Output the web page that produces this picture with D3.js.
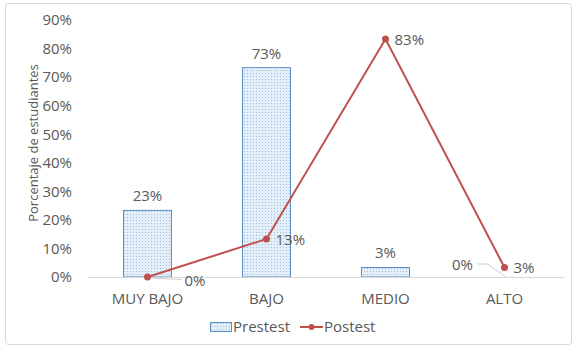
<!DOCTYPE html>
<html>
<head>
<meta charset="utf-8">
<script src="https://cdn.jsdelivr.net/npm/d3@7"></script>
<style>
body { margin: 0; background: #fff; }
text { font-family: "Open Sans", sans-serif; fill: #595959; }
</style>
</head>
<body>
<div id="chart"></div>
<script>
// data (n = 30 estudiantes)
var categories = ["MUY BAJO", "BAJO", "MEDIO", "ALTO"];
var prestest = [23.33, 73.33, 3.33, 0];
var postest = [0, 13.33, 83.33, 3.33];
var yTicks = [0, 10, 20, 30, 40, 50, 60, 70, 80, 90];

var w = 582;
var h = 350;
var plotLeft = 88, plotRight = 564, plotTop = 20, plotBottom = 277;
var fs = "15px";

var svg = d3.select("#chart")
    .append("svg")
    .attr("width", w)
    .attr("height", h);

// dotted fill for the bars
var defs = svg.append("defs");
var pat = defs.append("pattern")
    .attr("id", "dots")
    .attr("width", 3)
    .attr("height", 3)
    .attr("patternUnits", "userSpaceOnUse");
pat.append("rect").attr("width", 3).attr("height", 3).attr("fill", "#e4eef8");
pat.append("rect").attr("x", 1).attr("y", 1).attr("width", 1).attr("height", 1).attr("fill", "#9dbfe0");

// chart border
svg.append("rect")
    .attr("x", 5.5).attr("y", 3.5)
    .attr("width", 566).attr("height", 341)
    .attr("rx", 3)
    .attr("fill", "none")
    .attr("stroke", "#d9d9d9");

var x = d3.scaleBand().domain(categories).range([plotLeft, plotRight]);
var y = d3.scaleLinear().domain([0, 90]).range([plotBottom, plotTop]);

// y axis labels
var yAxis = d3.axisLeft(y).tickValues(yTicks).tickSize(0).tickPadding(16)
    .tickFormat(function(d) { return d + "%"; });
var gy = svg.append("g").attr("transform", "translate(" + plotLeft + ",0)").call(yAxis);
gy.select(".domain").remove();
gy.selectAll("text").style("font-size", fs).attr("fill", "#595959");

svg.append("text")
    .attr("transform", "translate(38,143) rotate(-90)")
    .style("text-anchor", "middle")
    .style("font-size", "13px")
    .text("Porcentaje de estudiantes");

// bars
var bw = 48;
svg.selectAll(".bar")
    .data(prestest)
    .enter()
    .append("rect")
    .attr("class", "bar")
    .attr("x", function(d, i) { return x(categories[i]) + x.bandwidth() / 2 - bw / 2; })
    .attr("y", function(d) { return y(d); })
    .attr("width", bw)
    .attr("height", function(d) { return plotBottom - y(d); })
    .attr("fill", "url(#dots)")
    .attr("stroke", "#5b8ec7")
    .attr("stroke-width", 1);

// x axis
var xAxis = d3.axisBottom(x).tickSize(0).tickPadding(16);
var gx = svg.append("g").attr("transform", "translate(0," + plotBottom + ")").call(xAxis);
gx.select(".domain").attr("stroke", "#d9d9d9");
gx.selectAll("text").style("font-size", fs).attr("fill", "#595959");

// bar labels
svg.selectAll(".blabel")
    .data(prestest)
    .enter()
    .append("text")
    .attr("class", "blabel")
    .attr("x", function(d, i) {
        var cx = x(categories[i]) + x.bandwidth() / 2;
        return d === 0 ? cx - 42 : cx;
    })
    .attr("y", function(d) { return d === 0 ? y(d) - 7 : y(d) - 9; })
    .style("text-anchor", "middle")
    .style("font-size", fs)
    .text(function(d) { return Math.round(d) + "%"; });

// leader line for the ALTO 0% bar label
svg.append("path")
    .attr("d", "M" + (x("ALTO") + x.bandwidth() / 2 - 27) + "," + (y(0) - 13) +
        " L" + (x("ALTO") + x.bandwidth() / 2 - 17) + "," + (y(0) - 13) +
        " L" + (x("ALTO") + x.bandwidth() / 2 + 1) + "," + y(0))
    .attr("fill", "none")
    .attr("stroke", "#bfbfbf")
    .attr("stroke-width", 0.8);

// line
var line = d3.line()
    .x(function(d, i) { return x(categories[i]) + x.bandwidth() / 2; })
    .y(function(d) { return y(d); });

svg.append("path")
    .datum(postest)
    .attr("d", line)
    .attr("fill", "none")
    .attr("stroke", "#c0504d")
    .attr("stroke-width", 2);

svg.selectAll(".dot")
    .data(postest)
    .enter()
    .append("circle")
    .attr("cx", function(d, i) { return x(categories[i]) + x.bandwidth() / 2; })
    .attr("cy", function(d) { return y(d); })
    .attr("r", 3.5)
    .attr("fill", "#c0504d");

// leader line for MUY BAJO 0% line label
svg.append("path")
    .attr("d", "M" + (x("MUY BAJO") + x.bandwidth() / 2 + 4) + "," + (y(0) + 1) +
        " L" + (x("MUY BAJO") + x.bandwidth() / 2 + 34) + "," + (y(0) + 2.5))
    .attr("fill", "none")
    .attr("stroke", "#bfbfbf")
    .attr("stroke-width", 0.8);

// line labels
svg.selectAll(".llabel")
    .data(postest)
    .enter()
    .append("text")
    .attr("class", "llabel")
    .attr("x", function(d, i) {
        var cx = x(categories[i]) + x.bandwidth() / 2;
        return i === 0 ? cx + 37 : cx + 9;
    })
    .attr("y", function(d, i) { return i === 0 ? y(d) + 9 : y(d) + 6; })
    .style("font-size", fs)
    .text(function(d) { return Math.round(d) + "%"; });

// legend
var legend = svg.append("g").attr("transform", "translate(210,322)");
legend.append("rect")
    .attr("x", 0.5).attr("y", 0.5)
    .attr("width", 21).attr("height", 9)
    .attr("fill", "url(#dots)")
    .attr("stroke", "#5b8ec7");
legend.append("text")
    .attr("x", 23).attr("y", 10)
    .style("font-size", fs)
    .text("Prestest");
legend.append("line")
    .attr("x1", 90).attr("x2", 113)
    .attr("y1", 5).attr("y2", 5)
    .attr("stroke", "#c0504d")
    .attr("stroke-width", 2);
legend.append("circle")
    .attr("cx", 101.5).attr("cy", 5).attr("r", 3)
    .attr("fill", "#c0504d");
legend.append("text")
    .attr("x", 114).attr("y", 10)
    .style("font-size", fs)
    .text("Postest");
</script>
</body>
</html>
